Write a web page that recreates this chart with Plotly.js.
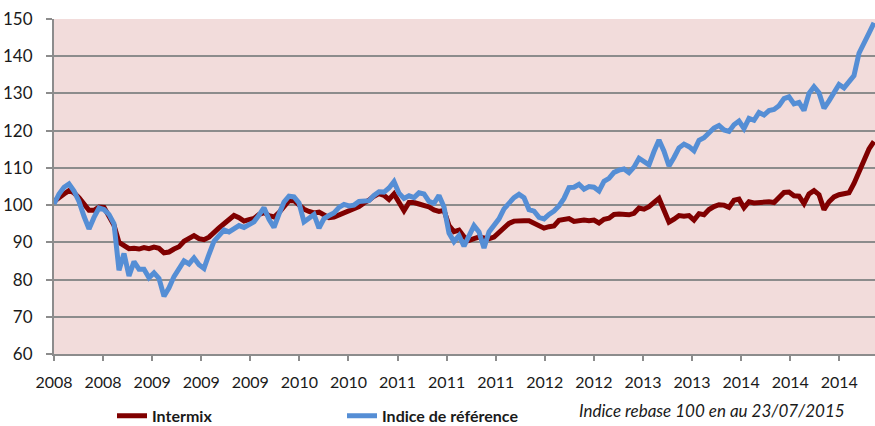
<!DOCTYPE html>
<html>
<head>
<meta charset="utf-8">
<script src="https://cdn.plot.ly/plotly-3.0.1.min.js"></script>
<style>html,body{margin:0;padding:0;background:#fff}#chart{width:875px;height:426px}</style>
</head>
<body>
<div id="chart"></div>
<script>
// Tick labels along the time axis
var tickLabels = ["2008","2008","2009","2009","2009","2010","2010","2011","2011","2011","2012","2012","2013","2013","2014","2014","2014"];

// Series (rebased indices) at regular time steps
var intermix = [
101,102.2,103,103.9,103.3,102,100,98.6,98.6,99.5,
99.4,97.3,94.6,90,89,88.3,88.4,88.2,88.6,88.3,
88.7,88.4,87.2,87.4,88.2,88.8,90.3,91.2,91.8,91,
90.7,91.4,92.8,93.9,95,95.9,97.2,96.6,95.7,96.1,
96.4,97.5,98,97.2,96.8,98,99.5,101.2,101.2,99.9,
98.9,98.3,97.9,98.1,97.2,96.6,96.8,97.3,98.1,98.5,
99.1,99.6,100.6,101.3,102.4,103.1,102.6,101.5,103,100.5,
98.5,100.7,100.7,100.3,100,99.5,98.7,98.3,98.6,94.5,
92.9,93.3,91.5,90.5,91,91.4,91.2,91,91.4,92.6,
94,95.1,95.7,95.9,95.8,95.8,95.2,94.5,93.8,94.2,
94.4,95.9,96.2,96.4,95.6,95.8,96,95.8,96,95.2,
96.2,96.5,97.5,97.6,97.5,97.4,97.8,99.2,98.9,99.6,
100.7,101.8,98.6,95.4,96.2,97.2,97,97.2,96,97.7,
97.4,98.8,99.6,100.1,100,99.4,101.3,101.6,99.3,100.9,
100.6,100.8,100.8,100.9,100.7,102,103.4,103.5,102.5,102.4,
100.4,103,103.9,102.8,98.8,100.9,102.2,102.8,103,103.3,
105.8,109,111.5,115.1,117.1
];
var indiceReference = [
100.3,103,104.8,105.7,103.8,101,97,93.6,96.7,99.2,
98.8,97.5,95,82.5,87,81,84.8,82.8,82.8,80.5,
81.8,80.3,75.5,77.8,80.8,83,85,84.2,85.8,84,
83,86.8,90.3,91.8,93.3,92.8,93.8,94.5,94,94.8,
95.5,97.3,99.3,96.2,94,97.6,100.8,102.4,102.2,100.6,
95.5,96.5,97.5,93.8,96.4,97.2,97.9,99.4,100.2,99.8,
100,101,101,101.2,102.6,103.6,103.5,104.6,106.3,103.2,
101.8,102.5,102,103.3,103,101,100.5,102.6,99.5,92.5,
90.2,91.8,89,92,94.5,92.8,88.5,92.8,94.4,96.3,
99,100.6,102,102.9,102,98.8,98.4,96.7,96.3,97.5,
98.4,99.8,101.8,104.7,104.8,105.6,104.3,105,104.8,103.8,
106.4,107.2,108.8,109.4,109.7,108.7,110.2,112.6,111.6,110.8,
114.4,117.5,114.5,110.5,112.8,115.4,116.4,115.7,114.6,117.4,
118.1,119.3,120.7,121.4,120.2,119.8,121.6,122.6,120.6,123.3,
122.8,124.9,124.2,125.4,125.7,126.7,128.6,129.1,127.2,127.6,
125.4,130,131.8,130.2,126,128,130.2,132.4,131.5,133.4,
134.8,140.8,143.2,146.2,149
];

var seriesNames = ["Intermix", "Indice de référence"];
var note = "Indice rebase 100 en au 23/07/2015";

var steps = intermix.map(function(_, i){ return i; });
var tickStep = 9.816;
var tickVals = tickLabels.map(function(_, k){ return k * tickStep; });

var traces = [
  {x: steps, y: intermix, name: seriesNames[0], type: "scatter", mode: "lines",
   line: {color: "#800000", width: 5}},
  {x: steps, y: indiceReference, name: seriesNames[1], type: "scatter", mode: "lines",
   line: {color: "#558ED5", width: 5}}
];

var gridCol = "#8c8c8c";
var layout = {
  width: 875, height: 426,
  margin: {l: 54, r: 0, t: 19, b: 72, pad: 0},
  paper_bgcolor: "#ffffff",
  plot_bgcolor: "#F2DCDB",
  font: {family: "Lato, 'Open Sans', sans-serif", size: 15, color: "#1a1a1a"},
  xaxis: {
    range: [0, 164.2], tickmode: "array", tickvals: tickVals, ticktext: tickLabels,
    showgrid: false, zeroline: false, showline: true, linecolor: gridCol, linewidth: 2,
    ticks: "outside", ticklen: 5, tickwidth: 2, tickcolor: gridCol, ticklabelstandoff: 8,
    tickfont: {size: 16}
  },
  yaxis: {
    range: [60, 150], dtick: 10, tick0: 60,
    showgrid: true, gridcolor: gridCol, gridwidth: 2, zeroline: false,
    showline: true, linecolor: gridCol, linewidth: 2,
    ticks: "outside", ticklen: 6, tickwidth: 2, tickcolor: gridCol, ticklabelstandoff: 10,
    tickfont: {size: 17}
  },
  showlegend: true,
  legend: {
    orientation: "h", xref: "container", yref: "container",
    x: 0.128, xanchor: "left", y: 0.024, yanchor: "middle",
    entrywidth: 185, entrywidthmode: "pixels",
    font: {size: 16, weight: "bold", color: "#1a1a1a"},
    bgcolor: "rgba(0,0,0,0)", borderwidth: 0
  },
  annotations: [{
    text: note, xref: "paper", yref: "paper", x: 0.802, y: -0.168,
    xanchor: "center", yanchor: "middle", showarrow: false,
    font: {size: 17, style: "italic", color: "#1a1a1a"}
  }]
};

Plotly.newPlot("chart", traces, layout, {displayModeBar: false, staticPlot: true});
</script>
</body>
</html>
